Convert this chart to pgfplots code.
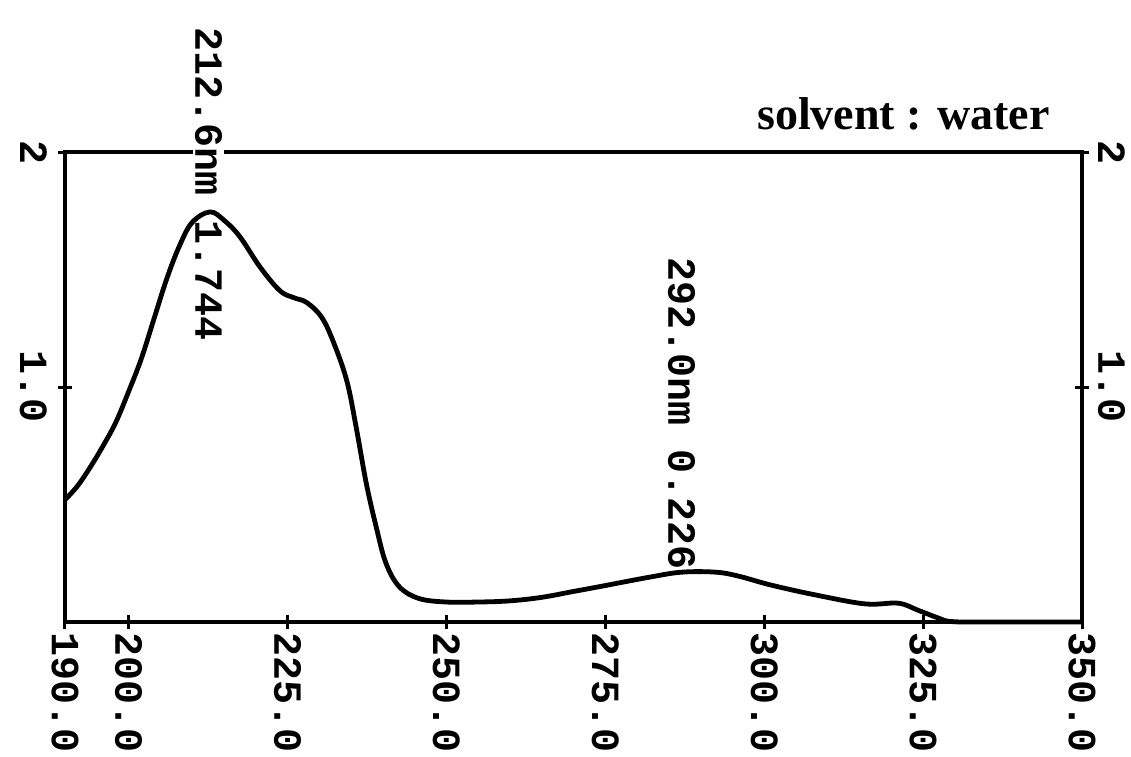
\documentclass[border=0pt]{standalone}
\usepackage{fontspec}
\setmainfont{Liberation Serif}
\setmonofont{Liberation Mono}
\usepackage{pgfplots}
\pgfplotsset{compat=1.18}
\newcommand{\tl}{\ttfamily\bfseries\fontsize{20}{20}\selectfont}
\begin{document}
\begin{tikzpicture}
\begin{axis}[
  scale only axis, width=508.5pt, height=235pt,
  xmin=190, xmax=350, ymin=0, ymax=2,
  clip=false,
  axis line style={line width=2pt},
  xtick={190,200,225,250,275,300,325,350},
  xticklabels={190.0,200.0,225.0,250.0,275.0,300.0,325.0,350.0},
  ytick={1,2}, yticklabels={1.0,2},
  xtick pos=left, ytick pos=left,
  tick align=center, major tick length=7pt,
  every tick/.style={line width=1.5pt, black},
  ticklabel style={font=\tl},
  xticklabel style={rotate=-90, anchor=west},
  xticklabel shift=-2pt,
  yticklabel style={rotate=-90, anchor=north},
  yticklabel shift=2pt,
]
\addplot[black, line width=2.4pt, smooth, tension=0.6] coordinates {
(190,0.52) (192,0.58) (194,0.66) (196,0.75) (198,0.85) (200,0.98) (202,1.12)
(204,1.29) (206,1.46) (208,1.60) (210,1.70) (212.8,1.745) (215,1.71)
(217.5,1.64) (220.7,1.51) (223.8,1.41) (226,1.38) (228,1.36) (230.3,1.30)
(232.1,1.20) (234.3,1.03) (235.8,0.83)
(237.4,0.59) (239.0,0.40) (240.5,0.25) (242.6,0.15) (245.7,0.10) (250,0.085)
(255,0.085) (260,0.09) (265,0.105) (270,0.13) (274,0.15) (281.8,0.19)
(287,0.212) (292.4,0.212) (296,0.195) (301.1,0.157) (308.1,0.115) (315.9,0.077)
(321.1,0.08) (324.2,0.05) (327.4,0.017) (329.4,0.002) (335,0) (350,0)
};
\node[rotate=-90, anchor=west, fill=white, inner sep=1pt, font=\tl] at (axis cs:212.6,2.54) {212.6nm};
\node[rotate=-90, anchor=west, inner sep=1pt, font=\tl] at (axis cs:212.6,1.72) {1.744};
\node[rotate=-90, anchor=west, inner sep=1pt, font=\tl] at (axis cs:287,1.56) {292.0nm 0.226};
\node[anchor=base east, inner sep=0pt, font=\bfseries\fontsize{23}{23}\selectfont] at (axis cs:345,2.094) {solvent : water};
\coordinate (bl) at (rel axis cs:0,0);
\coordinate (tr) at (rel axis cs:1,1);
\end{axis}
\begin{axis}[
  scale only axis, width=508.5pt, height=235pt,
  xmin=190, xmax=350, ymin=0, ymax=2,
  axis x line=none, axis y line*=right,
  axis line style={line width=2pt, -},
  ytick={1,2}, yticklabels={1.0,2},
  tick align=center, major tick length=7pt,
  every tick/.style={line width=1.5pt, black},
  ticklabel style={font=\tl},
  yticklabel style={rotate=-90, anchor=south},
  yticklabel shift=1pt,
]
\addplot[draw=none] coordinates {(190,0) (350,2)};
\end{axis}
\pgfresetboundingbox
\path ([shift={(-32.5pt,-67pt)}]bl) rectangle ([shift={(24.5pt,76pt)}]tr);
\end{tikzpicture}
\end{document}
